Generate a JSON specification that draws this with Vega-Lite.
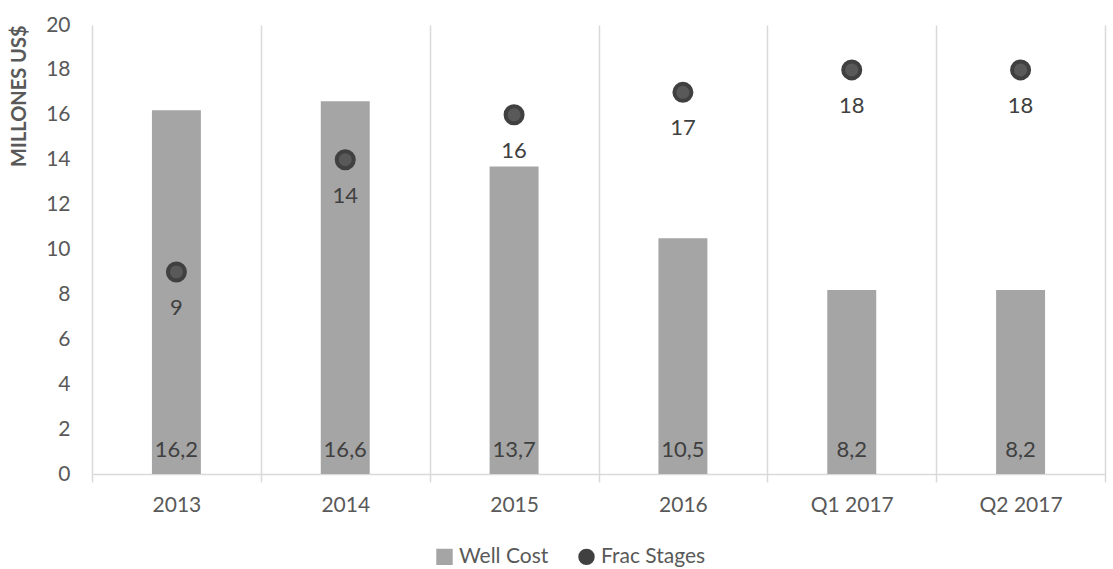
{
  "$schema": "https://vega.github.io/schema/vega-lite/v6.json",
  "width": 1013,
  "height": 449,
  "autosize": {"type": "none"},
  "padding": {"left": 92, "top": 25, "right": 8, "bottom": 95},
  "background": "white",
  "config": {
    "view": {"stroke": null},
    "font": "Lato",
    "locale": {"number": {"decimal": ",", "thousands": ".", "grouping": [3], "currency": ["", "$"]}}
  },
  "data": {"values": [
    {"period": "2013", "wellCost": 16.2, "fracStages": 9},
    {"period": "2014", "wellCost": 16.6, "fracStages": 14},
    {"period": "2015", "wellCost": 13.7, "fracStages": 16},
    {"period": "2016", "wellCost": 10.5, "fracStages": 17},
    {"period": "Q1 2017", "wellCost": 8.2, "fracStages": 18},
    {"period": "Q2 2017", "wellCost": 8.2, "fracStages": 18}
  ]},
  "encoding": {
    "x": {
      "field": "period", "type": "nominal", "sort": null,
      "scale": {"paddingInner": 0, "paddingOuter": 0},
      "axis": {
        "title": null, "labelAngle": 0, "labelFontSize": 21, "labelColor": "#595959",
        "labelPadding": 12,
        "tickBand": "extent", "grid": true, "gridColor": "#D9D9D9", "gridWidth": 1.5,
        "ticks": true, "tickSize": 8, "tickColor": "#D9D9D9", "tickWidth": 1.5,
        "domain": true, "domainColor": "#D9D9D9", "domainWidth": 1.5
      }
    }
  },
  "layer": [
    {
      "mark": {"type": "bar", "width": {"band": 0.29}},
      "encoding": {
        "y": {
          "field": "wellCost", "type": "quantitative",
          "scale": {"domain": [0, 20], "nice": false},
          "axis": {
            "title": "MILLONES US$", "titleFontSize": 20, "titleFontWeight": "bold", "titleColor": "#595959",
            "titleAnchor": "end", "titlePadding": 16,
            "values": [0, 2, 4, 6, 8, 10, 12, 14, 16, 18, 20],
            "labelFontSize": 21, "labelColor": "#595959", "labelPadding": 22,
            "domain": false, "ticks": false, "grid": false
          }
        },
        "color": {
          "datum": "Well Cost", "type": "nominal",
          "scale": {"domain": ["Well Cost", "Frac Stages"], "range": ["#A5A5A5", "#404040"]},
          "legend": {
            "title": null, "orient": "none", "legendX": 342, "legendY": 521, "direction": "horizontal",
            "labelFontSize": 21, "labelColor": "#595959", "symbolSize": 180, "columnPadding": 24,
            "labelOffset": 4,
            "encode": {"symbols": {"update": {
              "shape": [{"test": "datum.label === 'Well Cost'", "value": "square"}, {"value": "circle"}],
              "fill": [{"test": "datum.label === 'Well Cost'", "value": "#A5A5A5"}, {"value": "#595959"}],
              "stroke": [{"test": "datum.label === 'Well Cost'", "value": "#A5A5A5"}, {"value": "#404040"}],
              "strokeWidth": {"value": 3}
            }}}
          }
        }
      }
    },
    {
      "mark": {"type": "text", "fontSize": 22, "color": "#404040", "baseline": "middle", "dy": -24},
      "encoding": {
        "y": {"datum": 0, "type": "quantitative"},
        "text": {"field": "wellCost", "type": "quantitative", "format": ".1f"}
      }
    },
    {
      "mark": {"type": "point", "filled": true, "size": 290, "fill": "#595959", "stroke": "#404040", "strokeWidth": 4, "opacity": 1},
      "encoding": {
        "y": {"field": "fracStages", "type": "quantitative"},
        "color": {"datum": "Frac Stages", "type": "nominal"}
      }
    },
    {
      "mark": {"type": "text", "fontSize": 22, "color": "#404040", "baseline": "middle", "dy": 36},
      "encoding": {
        "y": {"field": "fracStages", "type": "quantitative"},
        "text": {"field": "fracStages", "type": "quantitative"}
      }
    }
  ]
}
